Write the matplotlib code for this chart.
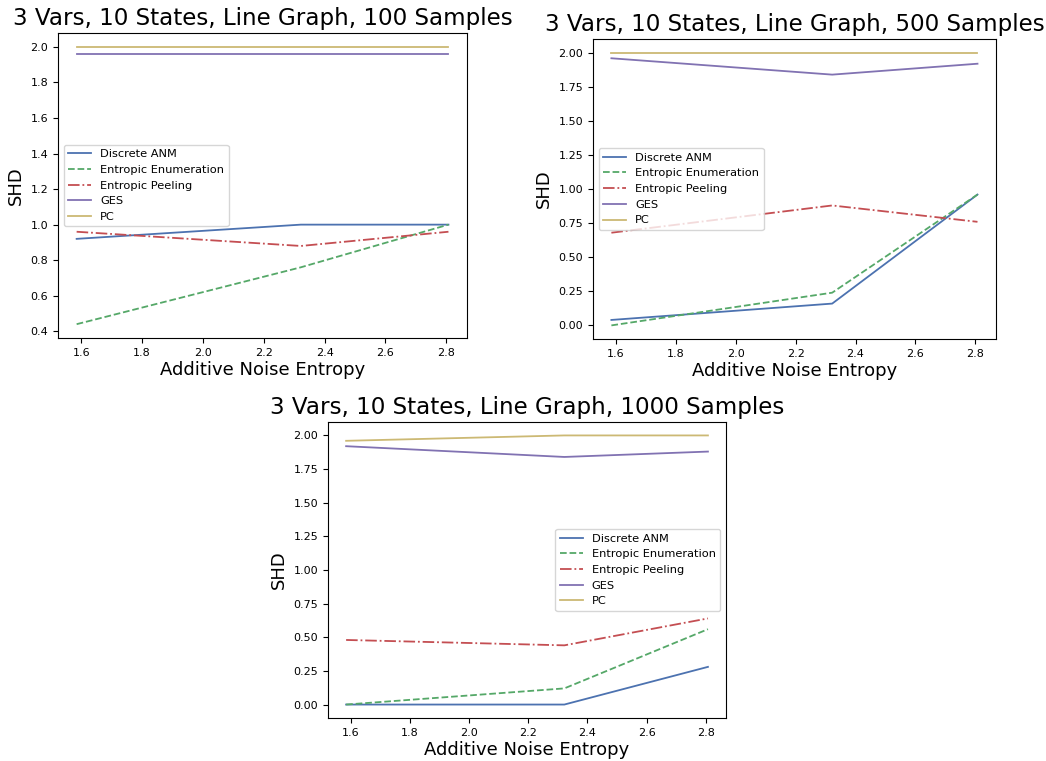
import numpy as np
import matplotlib
matplotlib.use('Agg')
import matplotlib.pyplot as plt

# additive noise entropy (log2 of 3, 5, 7 states)
entropy = [1.585, 2.322, 2.807]

methods = ['Discrete ANM', 'Entropic Enumeration', 'Entropic Peeling', 'GES', 'PC']
colors = ['#4C72B0', '#55A868', '#C44E52', '#8172B2', '#CCB974']
styles = ['-', '--', '-.', '-', '-']

# SHD per method, 100 samples
shd_100 = {
    'Discrete ANM': [0.92, 1.00, 1.00],
    'Entropic Enumeration': [0.44, 0.76, 1.00],
    'Entropic Peeling': [0.96, 0.88, 0.96],
    'GES': [1.96, 1.96, 1.96],
    'PC': [2.00, 2.00, 2.00],
}

# 500 samples
shd_500 = {
    'Discrete ANM': [0.04, 0.16, 0.96],
    'Entropic Enumeration': [0.00, 0.24, 0.96],
    'Entropic Peeling': [0.68, 0.88, 0.76],
    'GES': [1.96, 1.84, 1.92],
    'PC': [2.00, 2.00, 2.00],
}

# 1000 samples
shd_1000 = {
    'Discrete ANM': [0.00, 0.00, 0.28],
    'Entropic Enumeration': [0.00, 0.12, 0.56],
    'Entropic Peeling': [0.48, 0.44, 0.64],
    'GES': [1.92, 1.84, 1.88],
    'PC': [1.96, 2.00, 2.00],
}


def plot_panel(ax, shd, n_samples, legend_loc):
    for m, c, ls in zip(methods, colors, styles):
        ax.plot(entropy, shd[m], color=c, linestyle=ls, linewidth=1.3, label=m)
    ax.set_title(f'3 Vars, 10 States, Line Graph, {n_samples} Samples', fontsize=16.6)
    ax.set_xlabel('Additive Noise Entropy', fontsize=13, labelpad=2)
    ax.set_ylabel('SHD', fontsize=13, labelpad=4)
    ax.tick_params(labelsize=8)
    ax.set_xticks([1.6, 1.8, 2.0, 2.2, 2.4, 2.6, 2.8])
    ax.legend(loc=legend_loc, fontsize=8.2)


fig = plt.figure(figsize=(10.46, 7.61), dpi=100)

ax1 = fig.add_axes([0.0555, 0.5558, 0.391, 0.4008])
ax2 = fig.add_axes([0.567, 0.5545, 0.385, 0.394])
ax3 = fig.add_axes([0.3136, 0.0565, 0.3805, 0.389])

plot_panel(ax1, shd_100, 100, 'center left')
plot_panel(ax2, shd_500, 500, 'center left')
plot_panel(ax3, shd_1000, 1000, 'center right')

fig.savefig('out.png', dpi=100)
